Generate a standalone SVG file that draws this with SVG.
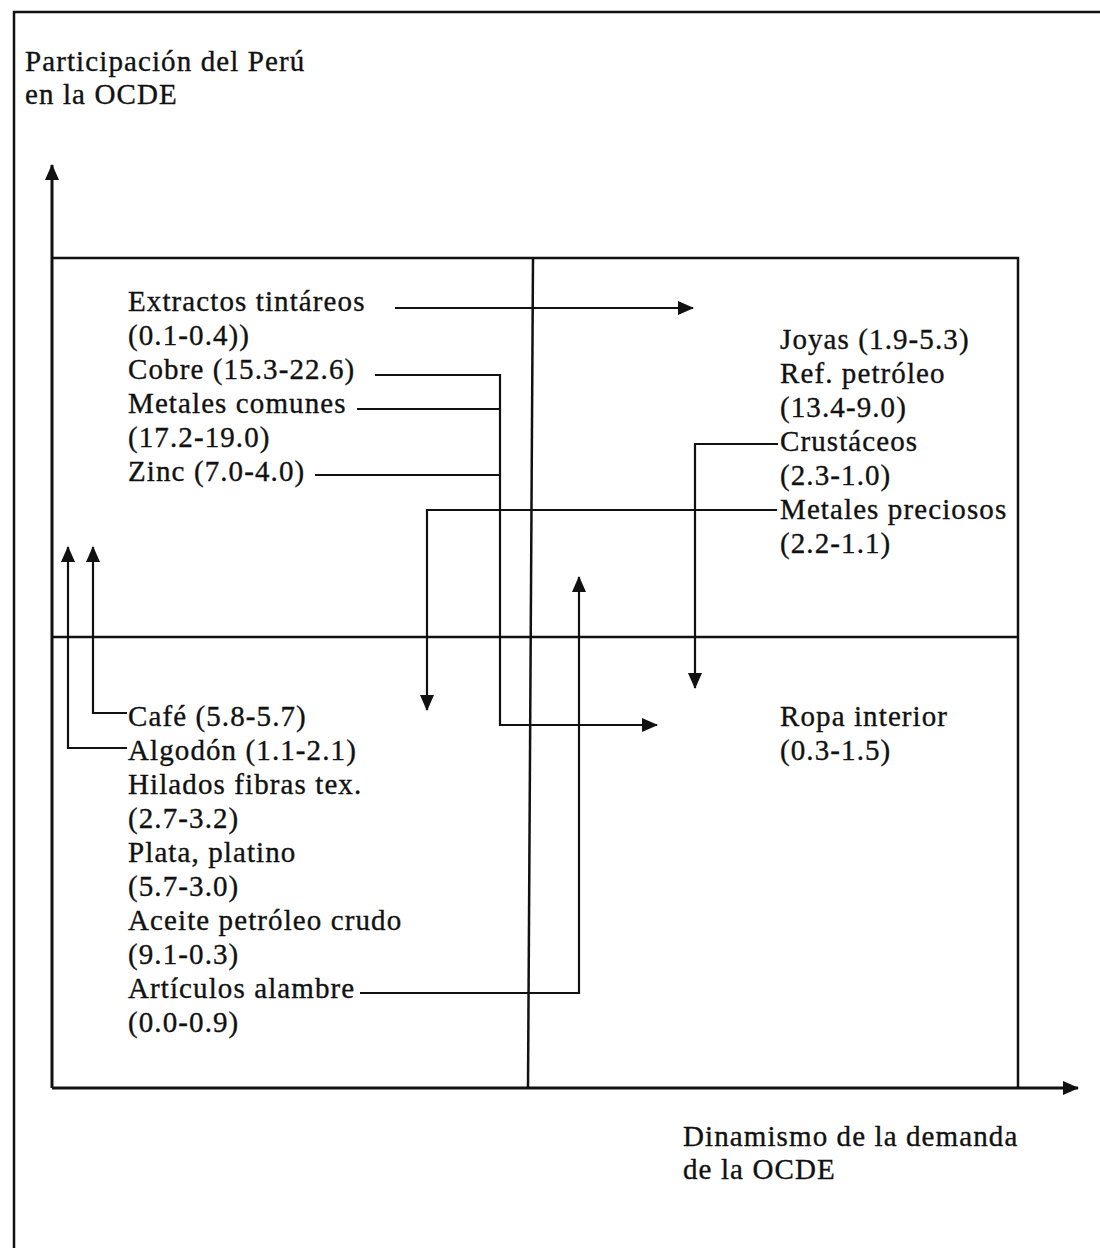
<svg xmlns="http://www.w3.org/2000/svg" width="1100" height="1248" viewBox="0 0 1100 1248">
<style>
text{font-family:"Liberation Serif","Times New Roman",serif;font-size:29px;letter-spacing:1.1px;fill:#111;stroke:#111;stroke-width:0.35}
.ax{stroke:#111;stroke-width:3;fill:none}
.bx{stroke:#111;stroke-width:2.5;fill:none}
.cn{stroke:#111;stroke-width:2.2;fill:none}
</style>
<defs>
<marker id="ah" markerUnits="userSpaceOnUse" markerWidth="16" markerHeight="16" refX="15" refY="8" orient="auto">
<path d="M0,1 L16,8 L0,15 Z" fill="#111"/>
</marker>
</defs>
<rect width="1100" height="1248" fill="#fff"/>
<g id="frame">
<path class="bx" d="M14,1248 L14,12 L1100,12"/>
</g>
<g id="axes">
<path class="ax" d="M52,1088 L52,165" marker-end="url(#ah)"/>
<path class="ax" d="M52,1088 L1078,1088" marker-end="url(#ah)"/>
</g>
<g id="quadrants">
<path class="bx" d="M52,258 L1018,258 L1018,1088"/>
<path class="bx" d="M533,258 L528,1088"/>
<path class="bx" d="M52,637 L1018,637"/>
</g>
<g id="title-y"><text x="25" y="71">Participación del Perú</text><text x="25" y="104">en la OCDE</text></g>
<g id="title-x"><text x="683" y="1146">Dinamismo de la demanda</text><text x="683" y="1179">de la OCDE</text></g>
<g id="upper-left">
<text x="128" y="311">Extractos tintáreos</text>
<text x="128" y="345">(0.1-0.4))</text>
<text x="128" y="379">Cobre (15.3-22.6)</text>
<text x="128" y="413">Metales comunes</text>
<text x="128" y="447">(17.2-19.0)</text>
<text x="128" y="481">Zinc (7.0-4.0)</text>
</g>
<g id="upper-right">
<text x="780" y="349">Joyas (1.9-5.3)</text>
<text x="780" y="383">Ref. petróleo</text>
<text x="780" y="417">(13.4-9.0)</text>
<text x="780" y="451">Crustáceos</text>
<text x="780" y="485">(2.3-1.0)</text>
<text x="780" y="519">Metales preciosos</text>
<text x="780" y="553">(2.2-1.1)</text>
</g>
<g id="lower-left">
<text x="128" y="726">Café (5.8-5.7)</text>
<text x="128" y="760">Algodón (1.1-2.1)</text>
<text x="128" y="794">Hilados fibras tex.</text>
<text x="128" y="828">(2.7-3.2)</text>
<text x="128" y="862">Plata, platino</text>
<text x="128" y="896">(5.7-3.0)</text>
<text x="128" y="930">Aceite petróleo crudo</text>
<text x="128" y="964">(9.1-0.3)</text>
<text x="128" y="998">Artículos alambre</text>
<text x="128" y="1032">(0.0-0.9)</text>
</g>
<g id="lower-right">
<text x="780" y="726">Ropa interior</text>
<text x="780" y="760">(0.3-1.5)</text>
</g>
<g id="connectors">
<path class="cn" d="M395,308 L693,308" marker-end="url(#ah)"/>
<path class="cn" d="M375,375 L500,375 L500,725 L657,725" marker-end="url(#ah)"/>
<path class="cn" d="M357,409 L500,409"/>
<path class="cn" d="M315,475 L500,475"/>
<path class="cn" d="M777,510 L427,510 L427,710" marker-end="url(#ah)"/>
<path class="cn" d="M778,444 L695,444 L695,688" marker-end="url(#ah)"/>
<path class="cn" d="M360,993 L579,993 L579,577" marker-end="url(#ah)"/>
<path class="cn" d="M127,713 L93,713 L93,547" marker-end="url(#ah)"/>
<path class="cn" d="M127,748 L68,748 L68,547" marker-end="url(#ah)"/>
</g>
</svg>
